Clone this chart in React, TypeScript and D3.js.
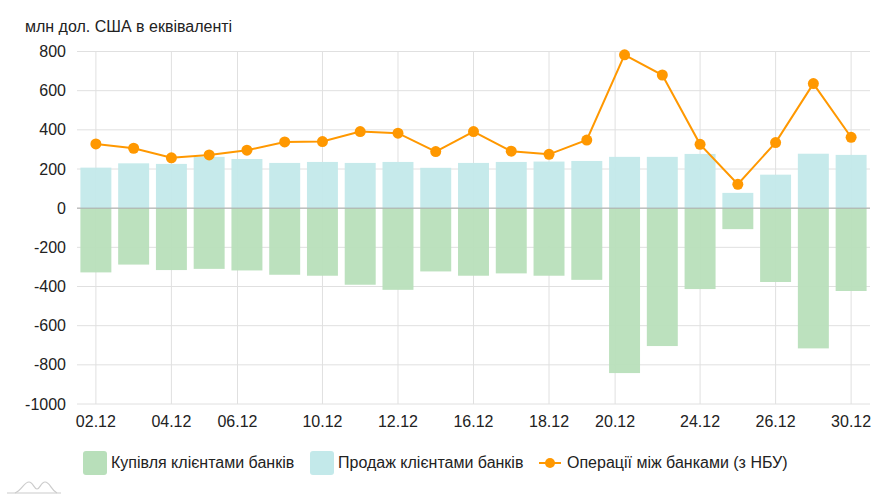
import React, { useRef, useEffect } from 'react';
import * as d3 from 'd3';

// дати торгових днів грудня
const dates = [
  '02.12', '03.12', '04.12', '05.12', '06.12', '09.12', '10.12', '11.12', '12.12', '13.12',
  '16.12', '17.12', '18.12', '19.12', '20.12', '23.12', '24.12', '25.12', '26.12', '27.12', '30.12',
];

// Купівля клієнтами банків (від'ємні значення)
const purchase = [
  -328, -288, -316, -310, -318, -340, -345, -391, -417, -323,
  -345, -333, -345, -366, -842, -704, -413, -107, -377, -716, -423,
];

// Продаж клієнтами банків
const sale = [
  207, 229, 226, 262, 251, 231, 236, 231, 236, 206,
  231, 236, 238, 241, 262, 262, 277, 78, 171, 278, 272,
];

// Операції між банками (з НБУ)
const interbank = [
  328, 306, 257, 272, 296, 338, 340, 391, 383, 289,
  391, 291, 275, 348, 783, 680, 326, 122, 335, 636, 362,
];

const yTicks = [800, 600, 400, 200, 0, -200, -400, -600, -800, -1000];
// підписи осі X та їх положення (в індексах категорій)
const xTickLabels = ['02.12', '04.12', '06.12', '10.12', '12.12', '16.12', '18.12', '20.12', '24.12', '26.12', '30.12'];
const xTickPos = [0, 2, 3.75, 6, 8, 10, 12, 13.75, 16, 18, 20];

const W = 891;
const H = 500;
const FONT = '"Liberation Sans", Arial, sans-serif';
const GREEN = '#b8dfba';
const CYAN = '#c3e9ea';
const ORANGE = '#ff9800';

const App: React.FC = () => {
  const svgRef = useRef<SVGSVGElement>(null);

  useEffect(() => {
    if (!svgRef.current) return;
    const svg = d3.select(svgRef.current);
    svg.selectAll('*').remove();

    const left = 77;
    const right = 870;
    const top = 51.5;
    const bottom = 404;

    const x = d3.scaleBand<string>().domain(dates).range([left, right]).paddingInner(0.18).paddingOuter(0.09);
    const y = d3.scaleLinear().domain([-1000, 800]).range([bottom, top]);
    const cx = (d: string) => (x(d) as number) + x.bandwidth() / 2;
    const xi = d3.scaleLinear().domain([0, dates.length - 1]).range([cx(dates[0]), cx(dates[dates.length - 1])]);

    // сітка
    const grid = svg.append('g');
    grid.selectAll('line.h')
      .data(yTicks)
      .join('line')
      .attr('x1', left).attr('x2', right)
      .attr('y1', d => y(d)).attr('y2', d => y(d))
      .attr('stroke', '#e0e0e0').attr('stroke-width', 1);
    grid.selectAll('line.v')
      .data(xTickPos)
      .join('line')
      .attr('x1', d => xi(d)).attr('x2', d => xi(d))
      .attr('y1', top).attr('y2', bottom)
      .attr('stroke', '#e0e0e0').attr('stroke-width', 1);

    // стовпчики
    svg.append('g').selectAll('rect')
      .data(dates)
      .join('rect')
      .attr('x', d => x(d) as number)
      .attr('width', x.bandwidth())
      .attr('y', (d, i) => y(sale[i]))
      .attr('height', (d, i) => y(0) - y(sale[i]))
      .attr('fill', CYAN)
      .attr('opacity', 0.95);
    svg.append('g').selectAll('rect')
      .data(dates)
      .join('rect')
      .attr('x', d => x(d) as number)
      .attr('width', x.bandwidth())
      .attr('y', y(0))
      .attr('height', (d, i) => y(purchase[i]) - y(0))
      .attr('fill', GREEN)
      .attr('opacity', 0.95);

    // нульова лінія
    svg.append('line')
      .attr('x1', left).attr('x2', right)
      .attr('y1', y(0)).attr('y2', y(0))
      .attr('stroke', '#aaaaaa').attr('stroke-width', 1);

    // лінія
    const line = d3.line<number>()
      .x((d, i) => cx(dates[i]))
      .y(d => y(d));
    svg.append('path')
      .datum(interbank)
      .attr('fill', 'none')
      .attr('stroke', ORANGE)
      .attr('stroke-width', 2)
      .attr('d', line);
    svg.append('g').selectAll('circle')
      .data(interbank)
      .join('circle')
      .attr('cx', (d, i) => cx(dates[i]))
      .attr('cy', d => y(d))
      .attr('r', 5.5)
      .attr('fill', ORANGE);

    // вісь Y
    svg.append('g').selectAll('text')
      .data(yTicks)
      .join('text')
      .attr('x', 66)
      .attr('y', d => y(d))
      .attr('dy', '0.35em')
      .attr('text-anchor', 'end')
      .attr('font-family', FONT)
      .attr('font-size', 16)
      .attr('fill', '#222')
      .text(d => d);

    // вісь X
    svg.append('g').selectAll('text')
      .data(xTickLabels)
      .join('text')
      .attr('x', (d, i) => xi(xTickPos[i]))
      .attr('y', 427)
      .attr('text-anchor', 'middle')
      .attr('font-family', FONT)
      .attr('font-size', 16)
      .attr('fill', '#222')
      .text(d => d);

    // заголовок осі
    svg.append('text')
      .attr('x', 25)
      .attr('y', 32)
      .attr('font-family', FONT)
      .attr('font-size', 16)
      .attr('fill', '#222')
      .text('млн дол. США в еквіваленті');

    // легенда
    const lg = svg.append('g').attr('font-family', FONT).attr('font-size', 16).attr('fill', '#222');
    lg.append('rect').attr('x', 83).attr('y', 451).attr('width', 24).attr('height', 24).attr('rx', 3).attr('fill', GREEN);
    lg.append('text').attr('x', 111).attr('y', 468).text('Купівля клієнтами банків');
    lg.append('rect').attr('x', 310).attr('y', 451).attr('width', 24).attr('height', 24).attr('rx', 3).attr('fill', CYAN);
    lg.append('text').attr('x', 338).attr('y', 468).text('Продаж клієнтами банків');
    lg.append('line').attr('x1', 539).attr('x2', 561).attr('y1', 463).attr('y2', 463).attr('stroke', ORANGE).attr('stroke-width', 2);
    lg.append('circle').attr('cx', 550).attr('cy', 463).attr('r', 5).attr('fill', ORANGE);
    lg.append('text').attr('x', 567).attr('y', 468).text('Операції між банками (з НБУ)');

    // маленький логотип внизу
    const logo = svg.append('g').attr('fill', 'none').attr('stroke', '#cccccc').attr('stroke-width', 1.2);
    logo.append('path').attr('d', 'M7,493 L61,493');
    logo.append('path').attr('d', 'M15,493 C22,490 24,482 29,482 C33,482 34,489 37,489 C40,489 41,482 45,482 C50,482 51,490 57,493');
  }, []);

  return (
    <svg
      ref={svgRef}
      width={W}
      height={H}
      style={{ position: 'absolute', left: 0, top: 0, background: '#fff' }}
    />
  );
};

export default App;
